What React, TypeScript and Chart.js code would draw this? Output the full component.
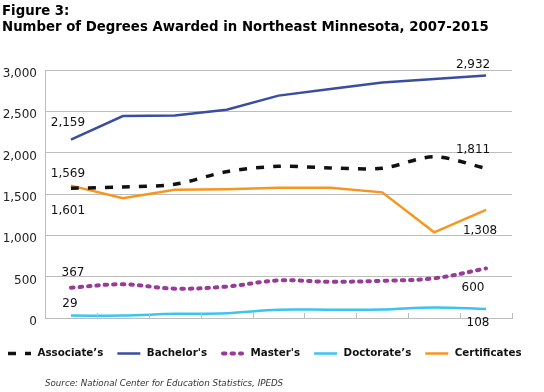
import React, { useEffect, useRef } from 'react';
import { Chart, registerables } from 'chart.js';

Chart.register(...registerables);

const years = ['2007', '2008', '2009', '2010', '2011', '2012', '2013', '2014', '2015'];
const associates = [1569, 1585, 1617, 1770, 1835, 1815, 1812, 1950, 1811];
const bachelors = [2159, 2443, 2450, 2520, 2690, 2770, 2850, 2890, 2932];
const masters = [367, 408, 355, 380, 455, 438, 450, 480, 600];
const doctorates = [29, 30, 50, 58, 100, 100, 103, 128, 108];
const certificates = [1601, 1448, 1550, 1558, 1575, 1576, 1520, 1037, 1308];
const yTicks = [0, 500, 1000, 1500, 2000, 2500, 3000];
const seriesNames = ['Associate\u2019s', "Bachelor's", "Master's", 'Doctorate\u2019s', 'Certificates'];
const titleLines = ['Figure 3:', 'Number of Degrees Awarded in Northeast Minnesota, 2007-2015'];
const sourceText = 'Source: National Center for Education Statistics, IPEDS';

// label placement (dataset index, point index, offset from point)
const labelSpecs = [
  { ds: 1, i: 0, dx: -3, dy: -17 },
  { ds: 0, i: 0, dx: -3, dy: -14 },
  { ds: 4, i: 0, dx: -3, dy: 25 },
  { ds: 2, i: 0, dx: 2, dy: -15 },
  { ds: 3, i: 0, dx: -1, dy: -12 },
  { ds: 1, i: 8, dx: -13, dy: -11 },
  { ds: 0, i: 8, dx: -13, dy: -18 },
  { ds: 4, i: 8, dx: -6, dy: 21 },
  { ds: 2, i: 8, dx: -13, dy: 19 },
  { ds: 3, i: 8, dx: -8, dy: 13.5 },
];

const FONT = '"DejaVu Sans", Verdana, sans-serif';
const GRID = '#BDBDBD';

const fmt = (v: number) => v.toLocaleString('en-US');

const decorPlugin = {
  id: 'decor',
  afterDatasetsDraw(chart: any) {
    const ctx = chart.ctx;
    const xs = chart.scales.x;
    const area = chart.chartArea;
    ctx.save();
    // inside tick marks on x axis
    const p0 = xs.getPixelForValue(0);
    const step = xs.getPixelForValue(1) - p0;
    ctx.strokeStyle = GRID;
    ctx.lineWidth = 1;
    for (let k = 0; k <= years.length; k++) {
      const x = Math.round(p0 - step / 2 + k * step) + 0.5;
      ctx.beginPath();
      ctx.moveTo(x, area.bottom);
      ctx.lineTo(x, area.bottom - 5);
      ctx.stroke();
    }
    // data labels
    ctx.fillStyle = '#111';
    ctx.font = '12px ' + FONT;
    ctx.textAlign = 'center';
    ctx.textBaseline = 'middle';
    labelSpecs.forEach((s) => {
      const meta = chart.getDatasetMeta(s.ds);
      const pt = meta.data[s.i];
      const v = chart.data.datasets[s.ds].data[s.i];
      ctx.fillText(fmt(v), pt.x + s.dx, pt.y + s.dy);
    });
    ctx.restore();
  },
  afterDraw(chart: any) {
    const ctx = chart.ctx;
    ctx.save();
    // title
    ctx.fillStyle = '#000';
    ctx.font = 'bold 13.3px ' + FONT;
    ctx.textAlign = 'left';
    ctx.textBaseline = 'alphabetic';
    ctx.fillText(titleLines[0], 2, 15);
    ctx.fillText(titleLines[1], 2, 30.5);
    // legend
    let x = 8;
    const y = 353.5;
    chart.data.datasets.forEach((ds: any) => {
      ctx.save();
      ctx.strokeStyle = ds.borderColor;
      ctx.lineWidth = ds.borderWidth;
      ctx.setLineDash(ds.borderDash || []);
      ctx.lineCap = ds.borderCapStyle || 'butt';
      ctx.beginPath();
      const inset = ds.borderCapStyle === 'round' ? ds.borderWidth / 2 : 0;
      ctx.moveTo(x + inset, y);
      ctx.lineTo(x + 23 - inset, y);
      ctx.stroke();
      ctx.restore();
      ctx.font = 'bold 10.3px ' + FONT;
      ctx.fillStyle = '#111';
      ctx.textBaseline = 'middle';
      ctx.fillText(ds.label, x + 29.5, y);
      x += 29.5 + ctx.measureText(ds.label).width + 14;
    });
    // source
    ctx.font = 'italic 8.7px ' + FONT;
    ctx.fillStyle = '#333';
    ctx.textBaseline = 'middle';
    ctx.fillText(sourceText, 45, 384);
    ctx.restore();
  },
};

export default function App() {
  const ref = useRef<HTMLCanvasElement | null>(null);
  useEffect(() => {
    if (!ref.current) return;
    const chart = new Chart(ref.current, {
      type: 'line',
      data: {
        labels: years,
        datasets: [
          {
            label: seriesNames[0],
            data: associates,
            borderColor: '#111111',
            borderWidth: 3.5,
            borderDash: [8, 9],
            tension: 0.3,
            pointRadius: 0,
            fill: false,
          },
          {
            label: seriesNames[1],
            data: bachelors,
            borderColor: '#3B4DA0',
            borderWidth: 2.5,
            tension: 0,
            pointRadius: 0,
            fill: false,
          },
          {
            label: seriesNames[2],
            data: masters,
            borderColor: '#983A97',
            borderWidth: 4,
            borderDash: [2.5, 6],
            borderCapStyle: 'round',
            tension: 0.35,
            pointRadius: 0,
            fill: false,
          },
          {
            label: seriesNames[3],
            data: doctorates,
            borderColor: '#3CC4F0',
            borderWidth: 2.5,
            tension: 0.35,
            pointRadius: 0,
            fill: false,
          },
          {
            label: seriesNames[4],
            data: certificates,
            borderColor: '#F7961E',
            borderWidth: 2.5,
            tension: 0,
            pointRadius: 0,
            fill: false,
          },
        ],
      },
      options: {
        responsive: false,
        animation: false,
        devicePixelRatio: 1,
        layout: { padding: { top: 70, right: 32, bottom: 74, left: 0 } },
        plugins: {
          legend: { display: false },
          title: { display: false },
          tooltip: { enabled: false },
        },
        scales: {
          x: {
            type: 'category',
            offset: true,
            grid: { drawOnChartArea: false, drawTicks: false, color: GRID },
            border: { display: true, color: GRID, width: 1 },
            ticks: { display: false },
            afterFit: (s: any) => { s.height = 0; },
          },
          y: {
            min: yTicks[0],
            max: yTicks[yTicks.length - 1],
            afterBuildTicks: (s: any) => { s.ticks = yTicks.map((v) => ({ value: v })); },
            grid: { color: GRID, drawTicks: false, lineWidth: 1 },
            border: { display: true, color: GRID, width: 1 },
            ticks: {
              padding: 8,
              labelOffset: 4,
              color: '#222',
              font: { family: FONT, size: 12 },
              callback: (v: any) => fmt(Number(v)),
            },
            afterFit: (s: any) => { s.width = 45; },
          },
        },
      },
      plugins: [decorPlugin],
    } as any);
    return () => chart.destroy();
  }, []);
  return (
    <div style={{ position: 'absolute', left: 0, top: 0, width: 544, height: 392, background: '#fff' }}>
      <canvas ref={ref} width={544} height={392} style={{ display: 'block', width: 544, height: 392 }} />
    </div>
  );
}
